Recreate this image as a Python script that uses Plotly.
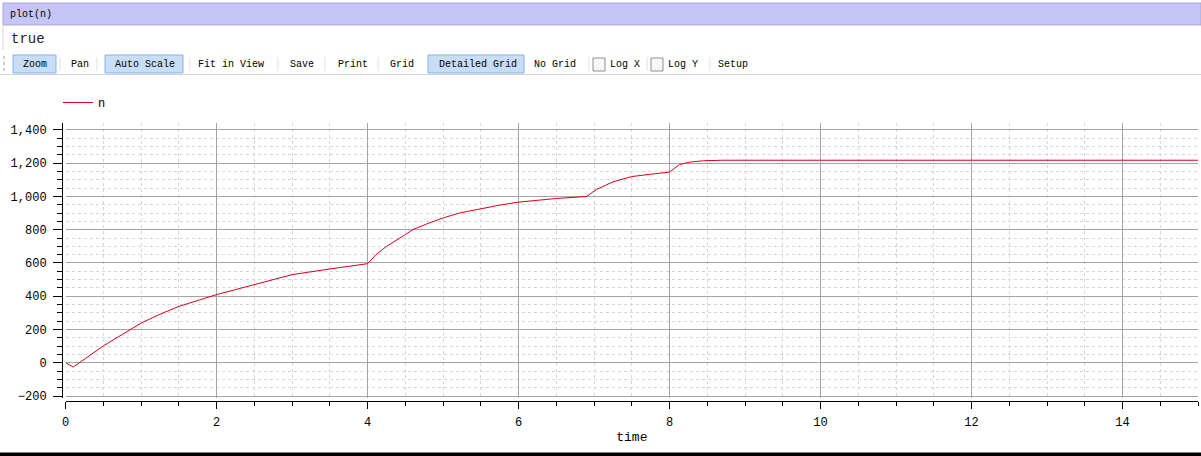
import plotly.graph_objects as go

# ---- data ----
time = [0.0, 0.1, 0.5, 0.75, 1.0, 1.25, 1.5, 2.0, 2.5, 3.0, 3.5, 4.0, 4.11, 4.25, 4.5,
        4.6, 4.8, 5.0, 5.22, 5.5, 5.75, 6.0, 6.5, 6.9, 7.03, 7.25, 7.5, 7.75, 8.0,
        8.13, 8.27, 8.45, 8.7, 15.0]
n = [0, -26, 102, 170, 239, 292, 339, 410, 470, 530, 564, 596, 650, 700, 771,
     801, 838, 871, 901, 927, 948, 966, 988, 1000, 1042, 1088, 1120, 1134, 1147,
     1192, 1207, 1215, 1218, 1218]

series_name = "n"
x_title = "time"
window_title = "plot(n)"
result_text = "true"
toolbar_labels = ["Zoom", "Pan", "Auto Scale", "Fit in View", "Save", "Print",
                  "Grid", "Detailed Grid", "No Grid", "Log X", "Log Y", "Setup"]
toolbar_centers = [34.5, 79.5, 145, 231, 301.5, 353, 401.5, 477.5, 554.5, 624.5, 682.5, 733]
active_buttons = [(13, 56), (105, 183), (428, 524)]
separators = [60, 97, 190, 278, 325, 378, 589, 647, 710]
checkboxes = [593, 651]

FIG_W, FIG_H = 1201, 456
L, R, T, B = 62, 3, 123, 55
W = FIG_W - L - R
H = FIG_H - T - B


def px(x):
    return (x - L) / W


def py(y):
    return (T + H - y) / H


MONO = "Liberation Mono"
LINE_RED = "#d8001c"

fig = go.Figure()
fig.add_trace(go.Scatter(x=time, y=n, mode="lines", name=series_name,
                         line=dict(color=LINE_RED, width=1), showlegend=True))

shapes = []
annotations = []

# title bar
shapes.append(dict(type="rect", xref="paper", yref="paper", x0=px(3), x1=px(1201),
                   y0=py(25), y1=py(3), fillcolor="#c6c6f6",
                   line=dict(color="#a8a8d2", width=1), layer="above"))
annotations.append(dict(text=window_title, xref="paper", yref="paper", x=px(8), y=py(15),
                        xanchor="left", yanchor="middle", showarrow=False,
                        font=dict(family=MONO, size=10, color="#000")))
# result area
shapes.append(dict(type="line", xref="paper", yref="paper", x0=px(3), x1=px(3),
                   y0=py(26), y1=py(50), line=dict(color="#d4d4d4", width=1)))
annotations.append(dict(text=result_text, xref="paper", yref="paper", x=px(9), y=py(39),
                        xanchor="left", yanchor="middle", showarrow=False,
                        font=dict(family=MONO, size=14, color="#222")))
# toolbar
shapes.append(dict(type="line", xref="paper", yref="paper", x0=px(4), x1=px(4),
                   y0=py(56), y1=py(72), line=dict(color="#a0a0a0", width=1, dash="dot")))
for (a, b) in active_buttons:
    shapes.append(dict(type="rect", xref="paper", yref="paper", x0=px(a), x1=px(b),
                       y0=py(73), y1=py(55), fillcolor="#c8def5",
                       line=dict(color="#86b3e3", width=1)))
for s in separators:
    shapes.append(dict(type="line", xref="paper", yref="paper", x0=px(s), x1=px(s),
                       y0=py(57), y1=py(71), line=dict(color="#dedede", width=1)))
for c in checkboxes:
    shapes.append(dict(type="rect", xref="paper", yref="paper", x0=px(c), x1=px(c + 12),
                       y0=py(71), y1=py(58), fillcolor="#f8f8f8",
                       line=dict(color="#8e8f8f", width=1)))
for lab, cx in zip(toolbar_labels, toolbar_centers):
    annotations.append(dict(text=lab, xref="paper", yref="paper", x=px(cx), y=py(64),
                            xanchor="center", yanchor="middle", showarrow=False,
                            font=dict(family=MONO, size=10, color="#000")))
shapes.append(dict(type="line", xref="paper", yref="paper", x0=px(0), x1=px(1201),
                   y0=py(74.5), y1=py(74.5), line=dict(color="#d2d2d2", width=1)))
# bottom black bar
shapes.append(dict(type="rect", xref="paper", yref="paper", x0=px(0), x1=px(1201),
                   y0=py(456), y1=py(452.5), fillcolor="#000", line=dict(width=0)))

axis_font = dict(family=MONO, size=12, color="#000")

fig.update_layout(
    width=FIG_W, height=FIG_H,
    margin=dict(l=L, r=R, t=T, b=B, pad=0),
    paper_bgcolor="white", plot_bgcolor="white",
    shapes=shapes, annotations=annotations,
    showlegend=True,
    legend=dict(x=px(58), y=py(88), xanchor="left", yanchor="top",
                bgcolor="rgba(0,0,0,0)", font=dict(family=MONO, size=12, color="#000"),
                borderwidth=0, tracegroupgap=0),
    xaxis=dict(
        range=[0, 15], domain=[(65.7 - L) / W, 1], anchor="free", position=0,
        showline=True, linecolor="#000", linewidth=1,
        ticks="outside", ticklen=7, tickcolor="#000", tickwidth=1,
        tick0=0, dtick=2, tickfont=axis_font, ticklabelstandoff=3,
        showgrid=True, gridcolor="#a4a4a4", gridwidth=1,
        zeroline=False,
        minor=dict(dtick=0.5, tick0=0, ticks="outside", ticklen=4, tickcolor="#000",
                   showgrid=True, gridcolor="#d6d6d6", griddash="dot", gridwidth=1),
        title=dict(text=x_title, font=dict(family=MONO, size=13, color="#000"), standoff=2),
    ),
    yaxis=dict(
        range=[-212, 1442], domain=[3 / H, 1], anchor="free", position=0,
        showline=True, linecolor="#000", linewidth=1,
        ticks="outside", ticklen=9, tickcolor="#000", tickwidth=1,
        tick0=0, dtick=200, tickformat=",d", tickfont=axis_font, ticklabelstandoff=4,
        showgrid=True, gridcolor="#a4a4a4", gridwidth=1,
        zeroline=False,
        minor=dict(dtick=50, tick0=0, ticks="outside", ticklen=5, tickcolor="#000",
                   showgrid=True, gridcolor="#d6d6d6", griddash="dot", gridwidth=1),
    ),
)

fig.write_html("out.html", config={"displayModeBar": False},
               post_script="document.body.style.margin='0px';document.body.style.padding='0px';")
